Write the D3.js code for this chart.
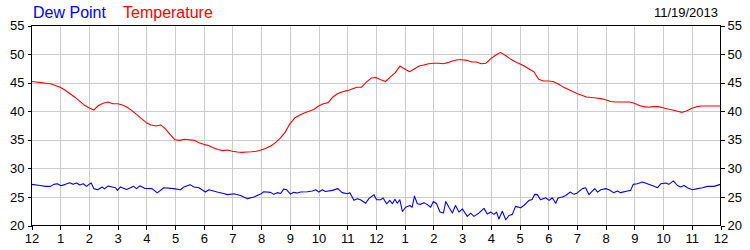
<!DOCTYPE html>
<html>
<head>
<meta charset="utf-8">
<script src="https://cdn.jsdelivr.net/npm/d3@7"></script>
<style>
  html, body { margin: 0; padding: 0; background: #fff; }
  svg { display: block; font-family: Arial, "Liberation Sans", sans-serif; }
</style>
</head>
<body>
<svg id="chart" width="750" height="250"></svg>
<script>
// ---- data ----
const dateLabel = "11/19/2013";
const seriesNames = ["Dew Point", "Temperature"];
const hourLabels = ["12","1","2","3","4","5","6","7","8","9","10","11",
                    "12","1","2","3","4","5","6","7","8","9","10","11","12"];
const yTicks = [20, 25, 30, 35, 40, 45, 50, 55];

// Temperature readings every 10 minutes, from 12 AM to 12 AM (145 readings)
const temperature = [
  45.2, 45.1, 45.0, 44.9, 44.8, 44.5,
  44.2, 43.7, 43.1, 42.5, 41.8, 41.1,
  40.6, 40.2, 41.0, 41.4, 41.6, 41.3,
  41.3, 41.1, 40.7, 40.1, 39.4, 38.7,
  38.0, 37.6, 37.4, 37.6, 36.9, 35.9,
  35.0, 34.9, 35.1, 35.0, 34.9, 34.5,
  34.2, 34.0, 33.6, 33.3, 33.1, 33.2,
  33.0, 32.85, 32.8, 32.85, 32.9, 33.0,
  33.2, 33.5, 33.9, 34.5, 35.3, 36.3,
  37.8, 38.8, 39.3, 39.7, 40.0, 40.3,
  40.9, 41.3, 41.5, 42.5, 43.1, 43.4,
  43.6, 43.9, 44.2, 44.2, 45.1, 45.8,
  45.9, 45.5, 45.2, 46.0, 46.7, 47.9,
  47.4, 46.9, 47.4, 47.9, 48.1, 48.3,
  48.4, 48.4, 48.3, 48.5, 48.8, 49.0,
  49.0, 48.9, 48.6, 48.6, 48.3, 48.4,
  49.2, 49.8, 50.3, 49.8, 49.2, 48.7,
  48.3, 47.9, 47.4, 46.9, 45.6, 45.3,
  45.3, 45.2, 44.8, 44.3, 43.9, 43.5,
  43.1, 42.8, 42.5, 42.4, 42.3, 42.2,
  42.0, 41.7, 41.6, 41.6, 41.6, 41.6,
  41.4, 41.0, 40.8, 40.7, 40.8, 40.8,
  40.6, 40.4, 40.2, 40.0, 39.8, 40.1,
  40.5, 40.8, 40.9, 40.9, 40.9, 40.9,
  40.9
];

// Dew point readings (hour of day, value)
const dewHours = [
  0.0, 0.31, 0.49, 0.66, 0.78, 0.9, 1.03, 1.18, 1.33, 1.45, 1.57, 1.68, 1.8, 1.92,
  2.0, 2.08, 2.17, 2.31, 2.46, 2.54, 2.66, 2.81, 2.93, 2.99, 3.1, 3.31, 3.45, 3.56,
  3.66, 3.77, 3.94, 4.2, 4.38, 4.61, 4.96, 5.19, 5.31, 5.52, 5.66, 5.83, 6.06, 6.18,
  6.47, 6.72, 6.82, 7.05, 7.28, 7.52, 7.75, 7.98, 8.09, 8.33, 8.44, 8.56, 8.68, 8.79,
  8.89, 9.02, 9.14, 9.26, 9.37, 9.61, 9.78, 9.9, 10.01, 10.13, 10.24, 10.48, 10.67, 10.82,
  11.0, 11.09, 11.23, 11.35, 11.46, 11.64, 11.75, 11.93, 12.02, 12.16, 12.25, 12.37, 12.48, 12.57,
  12.66, 12.74, 12.83, 12.92, 13.03, 13.18, 13.26, 13.34, 13.44, 13.55, 13.67, 13.79, 13.9, 14.0,
  14.11, 14.23, 14.35, 14.43, 14.54, 14.66, 14.77, 14.89, 15.01, 15.18, 15.3, 15.41, 15.59, 15.76,
  15.88, 16.0, 16.11, 16.2, 16.28, 16.4, 16.52, 16.63, 16.75, 16.86, 17.04, 17.15, 17.33, 17.44,
  17.53, 17.62, 17.73, 17.91, 18.03, 18.14, 18.26, 18.34, 18.49, 18.61, 18.76, 18.9, 19.01, 19.19,
  19.3, 19.42, 19.54, 19.62, 19.72, 19.83, 20.0, 20.12, 20.27, 20.41, 20.52, 20.76, 20.87, 20.96,
  21.1, 21.28, 21.45, 21.69, 21.8, 21.92, 22.09, 22.2, 22.36, 22.5, 22.61, 22.73, 22.85, 23.02,
  23.2, 23.37, 23.54, 23.77, 24.0
];
const dewPoint = [
  27.2, 27.0, 26.85, 26.85, 27.2, 27.3, 26.95, 27.2, 27.5, 27.2, 27.45, 27.1, 27.3, 26.85,
  27.2, 27.45, 26.45, 26.25, 26.75, 26.4, 26.9, 26.75, 26.6, 26.15, 26.75, 26.3, 26.6, 26.85,
  26.45, 26.95, 26.5, 26.45, 25.7, 26.6, 26.45, 26.25, 26.75, 27.15, 26.75, 26.6, 25.85, 26.25,
  25.85, 25.55, 25.4, 25.55, 25.25, 24.7, 25.0, 25.5, 25.9, 25.8, 25.45, 25.75, 25.6, 26.4,
  26.25, 25.5, 25.8, 25.7, 25.85, 25.9, 26.05, 26.25, 25.85, 26.25, 25.95, 26.15, 26.45, 25.75,
  25.55, 25.75, 24.4, 24.7, 24.5, 23.9, 24.7, 25.4, 24.5, 24.5, 24.8, 23.8, 24.4, 23.8,
  24.6, 23.9, 24.5, 22.45, 23.2, 23.5, 23.2, 25.15, 23.8, 23.7, 24.0, 23.65, 23.2, 24.2,
  23.8, 22.35, 22.2, 24.2, 23.2, 22.2, 23.5, 22.35, 22.9, 21.6, 22.15, 21.6, 22.2, 23.0,
  22.0, 22.35, 21.95, 22.35, 21.15, 22.5, 21.0, 21.75, 21.95, 23.35, 23.1, 23.5, 24.4, 24.55,
  25.45, 25.4, 24.5, 24.85, 24.4, 24.85, 23.9, 24.8, 25.0, 25.25, 25.85, 25.45, 25.7, 26.45,
  26.6, 25.4, 26.05, 26.45, 25.85, 26.25, 26.45, 26.25, 25.75, 26.05, 25.75, 26.05, 26.15, 27.2,
  27.3, 27.6, 27.3, 26.85, 26.6, 27.3, 27.45, 27.2, 27.8, 27.0, 26.75, 27.0, 26.6, 26.25,
  26.45, 26.6, 26.85, 26.85, 27.2
];

// ---- chart ----
const svg = d3.select("#chart");
const plotLeft = 31, plotRight = 720, plotTop = 25.5, plotBottom = 225.5;

const x = d3.scaleLinear().domain([0, 24]).range([plotLeft + 0.5, plotRight + 0.5]);
const y = d3.scaleLinear().domain([20, 55]).range([plotBottom, plotTop]);

const hourTicks = d3.range(hourLabels.length);

// gridlines
const grid = svg.append("g").attr("shape-rendering", "crispEdges");
grid.selectAll("line.v").data(hourTicks.slice(1, -1)).enter().append("line")
  .attr("x1", d => Math.round(x(d)) + 0.5).attr("x2", d => Math.round(x(d)) + 0.5)
  .attr("y1", plotTop).attr("y2", plotBottom)
  .attr("stroke", "#cccccc").attr("stroke-width", 1);
grid.selectAll("line.h").data(yTicks.slice(1, -1)).enter().append("line")
  .attr("x1", plotLeft + 0.5).attr("x2", plotRight + 0.5)
  .attr("y1", d => Math.round(y(d)) + 0.5).attr("y2", d => Math.round(y(d)) + 0.5)
  .attr("stroke", "#cccccc").attr("stroke-width", 1);

// lines
const tempPts = temperature.map((v, i) => [i / 6, v]);
const dewPts = dewPoint.map((v, i) => [dewHours[i], v]);
const line = d3.line().x(d => x(d[0])).y(d => y(d[1]));

svg.append("path").datum(dewPts).attr("d", line)
  .attr("fill", "none").attr("stroke", "#0000ff").attr("stroke-width", 1.1)
  .attr("stroke-linejoin", "round");
svg.append("path").datum(tempPts).attr("d", line)
  .attr("fill", "none").attr("stroke", "#ff0000").attr("stroke-width", 1.1)
  .attr("stroke-linejoin", "round");

// axes
const fontSize = "13px";
const yAxisL = d3.axisLeft(y).tickValues(yTicks).tickSize(4).tickPadding(3)
  .tickFormat(d3.format("d"));
const yAxisR = d3.axisRight(y).tickValues(yTicks).tickSize(4).tickPadding(3)
  .tickFormat(d3.format("d"));
const xAxis = d3.axisBottom(x).tickValues(hourTicks).tickSize(4).tickPadding(4)
  .tickFormat(i => hourLabels[i]);

function styleAxis(g) {
  g.selectAll("path.domain").remove();
  g.selectAll("line").attr("stroke", "#000").attr("shape-rendering", "crispEdges");
  g.selectAll("text").attr("fill", "#000").style("font-size", fontSize)
    .style("font-family", "Arial, 'Liberation Sans', sans-serif");
}

svg.append("g").attr("transform", `translate(${plotLeft + 0.5},0)`).call(yAxisL).call(styleAxis);
svg.append("g").attr("transform", `translate(${plotRight + 0.5},0)`).call(yAxisR).call(styleAxis);
svg.append("g").attr("transform", `translate(0,${plotBottom})`).call(xAxis).call(styleAxis);

// frame
svg.append("rect")
  .attr("x", plotLeft + 0.5).attr("y", plotTop)
  .attr("width", plotRight - plotLeft).attr("height", plotBottom - plotTop)
  .attr("fill", "none").attr("stroke", "#000").attr("stroke-width", 1)
  .attr("shape-rendering", "crispEdges");

// legend / title
svg.append("text").attr("x", 33).attr("y", 18)
  .attr("fill", "#0000ff").style("font-size", "16px").text(seriesNames[0]);
svg.append("text").attr("x", 123).attr("y", 18)
  .attr("fill", "#ff0000").style("font-size", "16px").text(seriesNames[1]);
svg.append("text").attr("x", 718).attr("y", 17).attr("text-anchor", "end")
  .attr("fill", "#000").style("font-size", "13px").text(dateLabel);
</script>
</body>
</html>
